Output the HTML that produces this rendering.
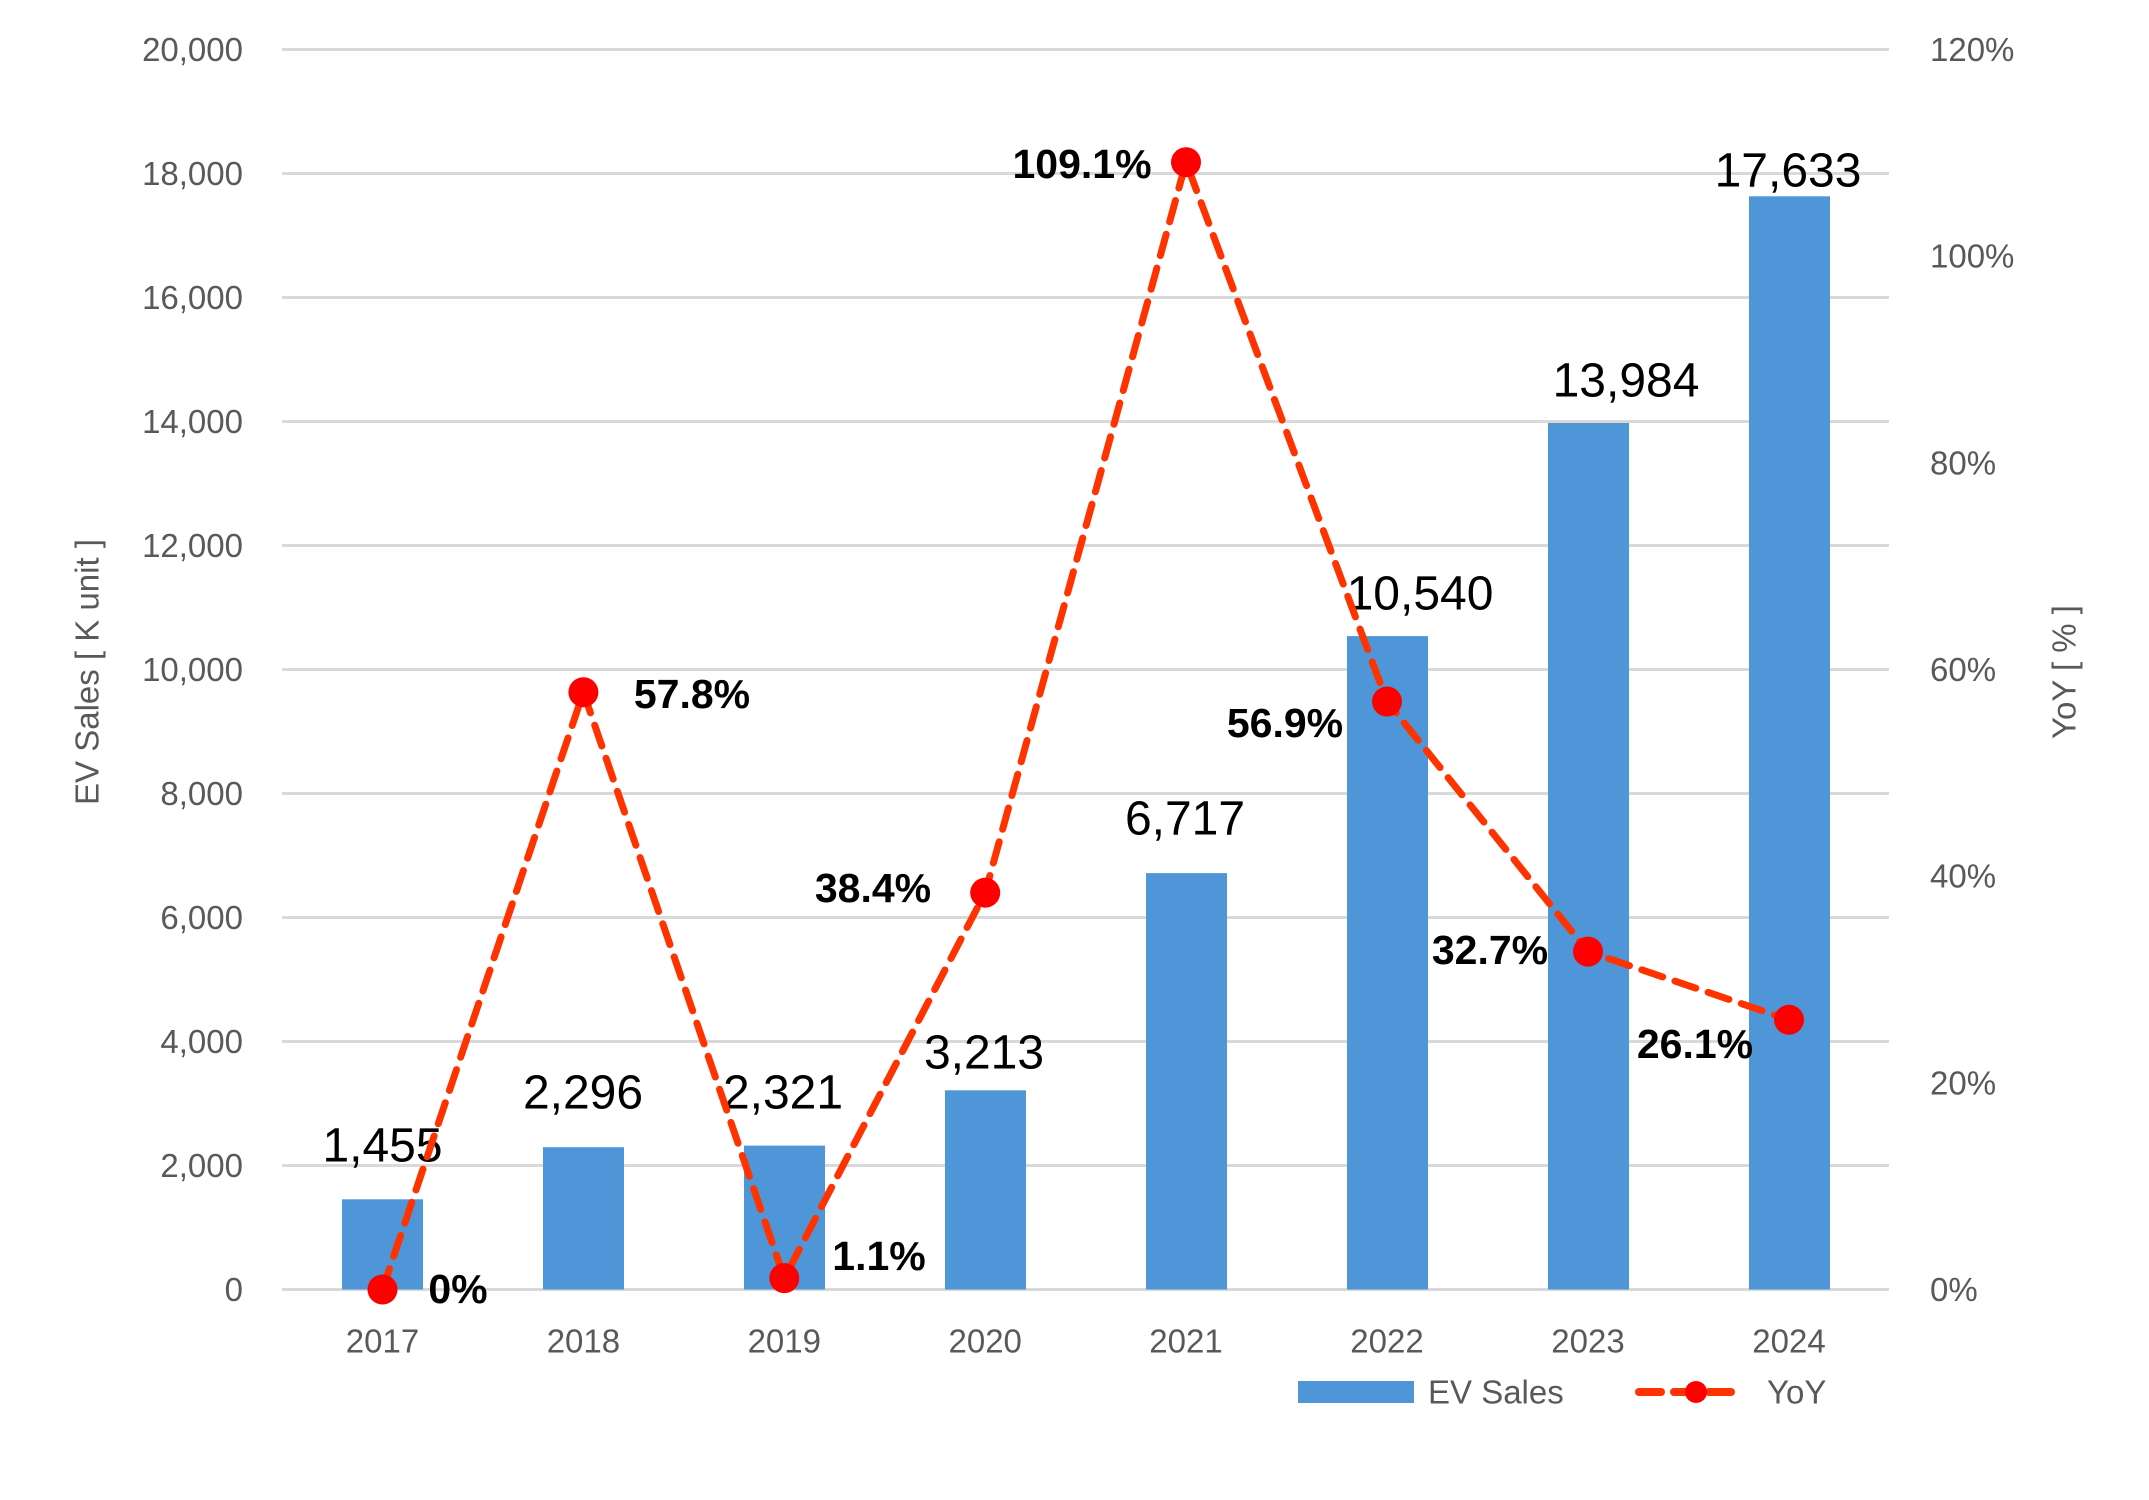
<!DOCTYPE html>
<html><head><meta charset="utf-8"><style>html,body{margin:0;padding:0;background:#fff}svg{display:block}</style></head>
<body>
<svg width="2149" height="1500" viewBox="0 0 2149 1500" xmlns="http://www.w3.org/2000/svg" font-family="Liberation Sans, sans-serif">
<g stroke="#D9D9D9" stroke-width="3">
<line x1="282" x2="1889" y1="49.5" y2="49.5"/><line x1="282" x2="1889" y1="173.5" y2="173.5"/><line x1="282" x2="1889" y1="297.5" y2="297.5"/><line x1="282" x2="1889" y1="421.5" y2="421.5"/><line x1="282" x2="1889" y1="545.5" y2="545.5"/><line x1="282" x2="1889" y1="669.5" y2="669.5"/><line x1="282" x2="1889" y1="793.5" y2="793.5"/><line x1="282" x2="1889" y1="917.5" y2="917.5"/><line x1="282" x2="1889" y1="1041.5" y2="1041.5"/><line x1="282" x2="1889" y1="1165.5" y2="1165.5"/><line x1="282" x2="1889" y1="1289.5" y2="1289.5"/>
</g>
<g fill="#595959" font-size="33" text-anchor="end" dominant-baseline="central">
<text x="243" y="49.5">20,000</text><text x="243" y="173.5">18,000</text><text x="243" y="297.5">16,000</text><text x="243" y="421.5">14,000</text><text x="243" y="545.5">12,000</text><text x="243" y="669.5">10,000</text><text x="243" y="793.5">8,000</text><text x="243" y="917.5">6,000</text><text x="243" y="1041.5">4,000</text><text x="243" y="1165.5">2,000</text><text x="243" y="1289.5">0</text>
</g>
<g fill="#595959" font-size="33" text-anchor="start" dominant-baseline="central">
<text x="1930" y="49.5">120%</text><text x="1930" y="256.2">100%</text><text x="1930" y="462.8">80%</text><text x="1930" y="669.5">60%</text><text x="1930" y="876.2">40%</text><text x="1930" y="1082.8">20%</text><text x="1930" y="1289.5">0%</text>
</g>
<text transform="translate(87,672) rotate(-90)" fill="#595959" font-size="33" text-anchor="middle" dominant-baseline="central">EV Sales [ K unit ]</text>
<text transform="translate(2064,672) rotate(-90)" fill="#595959" font-size="33" text-anchor="middle" dominant-baseline="central">YoY [ % ]</text>
<g fill="#4F96D9">
<rect x="342" y="1199.3" width="81" height="90.2"/>
<rect x="543" y="1147.2" width="81" height="142.3"/>
<rect x="744" y="1145.6" width="81" height="143.9"/>
<rect x="945" y="1090.3" width="81" height="199.2"/>
<rect x="1146" y="873.1" width="81" height="416.4"/>
<rect x="1347" y="636.1" width="81" height="653.4"/>
<rect x="1548" y="423" width="81" height="866.5"/>
<rect x="1749" y="196.3" width="81" height="1093.2"/>
</g>
<g fill="#595959" font-size="33" text-anchor="middle" dominant-baseline="central">
<text x="382.5" y="1341">2017</text><text x="583.4" y="1341">2018</text><text x="784.3" y="1341">2019</text><text x="985.2" y="1341">2020</text><text x="1186" y="1341">2021</text><text x="1387" y="1341">2022</text><text x="1588" y="1341">2023</text><text x="1789" y="1341">2024</text>
</g>
<g fill="#000" font-size="48" text-anchor="middle" dominant-baseline="central">
<text x="382.5" y="1146">1,455</text><text x="583" y="1093">2,296</text><text x="783" y="1093">2,321</text><text x="984" y="1053">3,213</text><text x="1185" y="819">6,717</text><text x="1420" y="594">10,540</text><text x="1626" y="381">13,984</text><text x="1788" y="171">17,633</text>
</g>
<polyline points="382.5,1289.5 583.4,692.2 784.3,1278.1 985.2,892.7 1186,162.2 1387,701.5 1588,951.6 1789,1019.8" fill="none" stroke="#FF3300" stroke-width="7" stroke-dasharray="22,13" stroke-linecap="round"/>
<g fill="#FF0000">
<circle cx="382.5" cy="1289.5" r="15"/><circle cx="583.4" cy="692.2" r="15"/><circle cx="784.3" cy="1278.1" r="15"/><circle cx="985.2" cy="892.7" r="15"/><circle cx="1186" cy="162.2" r="15"/><circle cx="1387" cy="701.5" r="15"/><circle cx="1588" cy="951.6" r="15"/><circle cx="1789" cy="1019.8" r="15"/>
</g>
<g fill="#000" font-size="41" font-weight="bold" text-anchor="middle" dominant-baseline="central">
<text x="458" y="1289">0%</text><text x="692" y="694">57.8%</text><text x="879" y="1256">1.1%</text><text x="873" y="888">38.4%</text><text x="1082" y="164">109.1%</text><text x="1285" y="723">56.9%</text><text x="1490" y="950">32.7%</text><text x="1695" y="1044">26.1%</text>
</g>
<rect x="1298" y="1381" width="116" height="22" fill="#4F96D9"/>
<text x="1428" y="1392" fill="#595959" font-size="33" dominant-baseline="central">EV Sales</text>
<line x1="1639" x2="1741" y1="1392" y2="1392" stroke="#FF3300" stroke-width="8" stroke-dasharray="22,13" stroke-linecap="round"/>
<circle cx="1696" cy="1392" r="11" fill="#FF0000"/>
<text x="1767" y="1392" fill="#595959" font-size="33" dominant-baseline="central">YoY</text>
</svg>
</body></html>
